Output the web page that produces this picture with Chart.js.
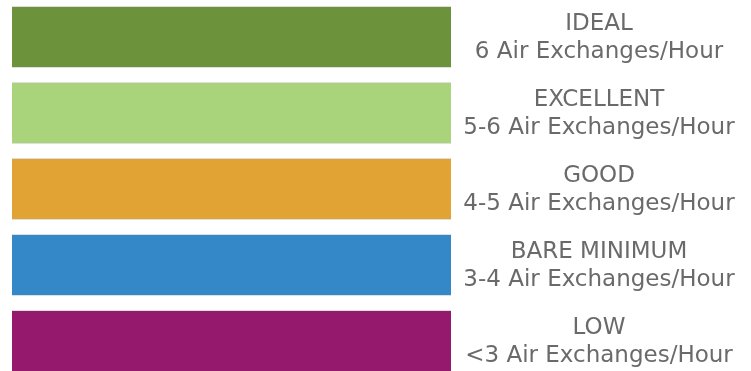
<!DOCTYPE html>
<html>
<head>
<meta charset="utf-8">
<script src="https://cdn.jsdelivr.net/npm/chart.js@4"></script>
<style>
    html, body { margin: 0; padding: 0; background: #fff; overflow: hidden; }
    #wrap { position: absolute; left: 0; top: -1px; width: 751px; height: 380px; }
</style>
</head>
<body>
<div id="wrap"><canvas id="airChart"></canvas></div>
<script>
// Chart data
const levels = ['IDEAL', 'EXCELLENT', 'GOOD', 'BARE MINIMUM', 'LOW'];
const rates = ['6 Air Exchanges/Hour', '5-6 Air Exchanges/Hour', '4-5 Air Exchanges/Hour', '3-4 Air Exchanges/Hour', '<3 Air Exchanges/Hour'];
const barValues = [1, 1, 1, 1, 1];
const barColors = ['#6d923c', '#a9d47b', '#e1a333', '#3488c8', '#951a6e'];

// Draws the two-line label to the right of each bar
const sideLabels = {
    id: 'sideLabels',
    afterDatasetsDraw(chart) {
        const ctx = chart.ctx;
        const yScale = chart.scales.y;
        ctx.save();
        ctx.fillStyle = '#6a6a6a';
        ctx.textAlign = 'center';
        ctx.textBaseline = 'alphabetic';
        ctx.font = "23px 'DejaVu Sans', sans-serif";
        levels.forEach((lvl, i) => {
            const y = yScale.getPixelForValue(i);
            ctx.fillText(lvl, 599, y - 7);
            ctx.fillText(rates[i], 599, y + 21);
        });
        ctx.restore();
    }
};

const ctx = document.getElementById('airChart').getContext('2d');
new Chart(ctx, {
    type: 'bar',
    data: {
        labels: levels,
        datasets: [{
            data: barValues,
            backgroundColor: barColors,
            borderColor: 'rgba(190,190,190,0.5)',
            borderWidth: { top: 1, bottom: 1 },
            borderSkipped: false,
            barPercentage: 0.815,
            categoryPercentage: 1
        }]
    },
    options: {
        indexAxis: 'y',
        responsive: true, maintainAspectRatio: false,
        animation: false,
        layout: { padding: { left: 12, right: 300, top: 0, bottom: 0 } },
        plugins: { legend: { display: false }, tooltip: { enabled: false } },
        scales: {
            x: { display: false, min: 0, max: 1 },
            y: { display: false }
        }
    },
    plugins: [sideLabels]
});
</script>
</body>
</html>
